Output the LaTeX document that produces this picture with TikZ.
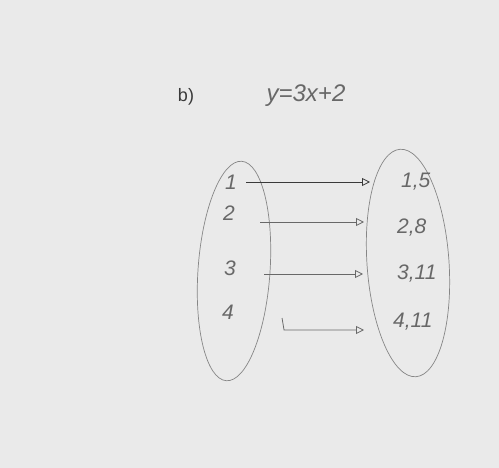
\documentclass[tikz,border=0pt]{standalone}
\usepackage{fontspec}
\setmainfont{Liberation Sans}
\usetikzlibrary{arrows.meta}
\definecolor{paper}{HTML}{EAEAEA}
\definecolor{pencil}{HTML}{686868}
\definecolor{ink}{HTML}{3A3A3A}
\tikzset{
  x=1pt,y=-1pt,
  digit/.style={text=pencil,font=\fontsize{21}{21}\selectfont\itshape,inner sep=1pt},
  pair/.style={text=pencil,font=\fontsize{21}{21}\selectfont\itshape,inner sep=1pt,anchor=west},
  setline/.style={draw=pencil!80,line width=0.7pt},
  maparrow/.style={draw=pencil,line width=0.8pt,-{Triangle[open,length=8pt,width=8pt]}},
}
\begin{document}
\begin{tikzpicture}
\useasboundingbox (0,0) rectangle (499,468);
\fill[paper] (0,0) rectangle (499,468);
\node[text=ink,font=\fontsize{18}{18}\selectfont] (lab) at (186,97) {b)};
\node[text=pencil,font=\fontsize{24}{24}\selectfont\itshape] (eq) at (306,96) {y=3x+2};
% sets
\draw[setline,rotate around={-4:(234,271)}] (234,271) ellipse [x radius=36, y radius=110];
\draw[setline,rotate around={4:(408,263)}] (408,263) ellipse [x radius=41, y radius=114];
% domain
\node[digit] (l1) at (231,182) {1};
\node[digit] (l2) at (229,213) {2};
\node[digit] (l3) at (230,268) {3};
\node[digit] (l4) at (228,312) {4};
% images
\node[pair] (r1) at (400,182) {1,5};
\node[pair] (r2) at (396,228) {2,8};
\node[pair] (r3) at (396,274) {3,11};
\node[pair] (r4) at (392,322) {4,11};
% mapping
\draw[maparrow,draw=ink,shorten <=8pt,shorten >=30pt] (l1.east) -- (r1.west);
\draw[maparrow,shorten <=24pt,shorten >=32pt] (l2.east|-r2.west) ++(0,-6) coordinate (s2) -- (s2-|r2.west);
\draw[maparrow,shorten <=27pt,shorten >=33pt] (l3.east) ++(0,6) coordinate (s3) -- (s3-|r3.west);
\draw[maparrow] (l4.east) ++(47,6) coordinate (s4) -- ++(2,12) coordinate (c4) -- ([xshift=-28pt]c4-|r4.west);
\end{tikzpicture}
\end{document}
